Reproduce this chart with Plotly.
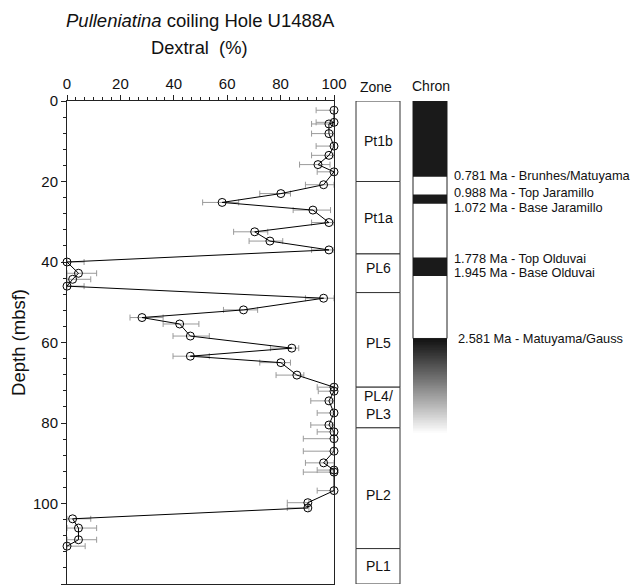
import plotly.graph_objects as go

# ---- data ----
depth = [2.3, 5.3, 5.7, 8.1, 11.2, 13.5, 15.8, 17.6, 20.8, 23.0, 25.2, 27.1, 30.2, 32.5, 34.8, 37.0,
         40.0, 42.8, 44.3, 46.0, 49.0, 51.9, 53.8, 55.4, 58.4, 61.4, 63.4, 65.0, 68.1, 71.1, 72.1, 74.5,
         77.5, 80.5, 82.2, 83.9, 87.0, 89.9, 91.7, 92.2, 96.8, 99.8, 101.1, 103.8, 106.1, 109.0, 110.6]
dextral = [100, 100, 98.1, 98.1, 100, 98.1, 94.0, 100, 96.1, 80.1, 58.1, 92.1, 98.1, 70.3, 76.0, 98.1,
           0, 4.3, 2.1, 0, 96.1, 66.1, 28.1, 42.2, 46.2, 84.2, 46.2, 80.1, 86.1, 100, 100, 98.1,
           100, 98.1, 100, 100, 100, 96.1, 100, 100, 100, 90.2, 90.2, 2.1, 4.3, 4.3, 0]
err_minus = [6.7, 6.7, 6.5, 6.5, 6.7, 6.5, 6.9, 6.3, 6.8, 7.9, 7.3, 7.4, 6.5, 7.9, 7.8, 6.5,
             0, 4.3, 2.1, 0, 6.8, 7.5, 4.5, 6.2, 6.5, 8.0, 6.5, 7.9, 7.8, 6.3, 5.9, 6.8,
             6.3, 6.8, 6.3, 11.5, 11.5, 6.8, 6.3, 11.5, 6.3, 7.7, 7.7, 2.1, 4.3, 4.3, 0]
err_plus = [0, 0, 1.9, 1.9, 0, 1.9, 4.5, 0, 3.9, 3.6, 6.2, 6.6, 1.9, 4.9, 4.8, 1.9,
            6.4, 6.8, 6.8, 6.4, 3.9, 5.3, 7.9, 7.2, 7.1, 2.6, 7.1, 3.6, 2.6, 0, 0, 1.9,
            0, 1.9, 0, 0, 0, 3.9, 0, 0, 0, 0.4, 0.4, 6.8, 6.8, 6.8, 6.8]

zone_bounds = [0, 20, 38, 47.6, 71.1, 81.2, 111.2, 120]
zone_names = ["Pt1b", "Pt1a", "PL6", "PL5", "PL4/<br>PL3", "PL2", "PL1"]
zone_label_depth = [10, 29, 41.5, 60, 75.5, 98, 115.6]

chron_black = [(0, 18.8), (23.2, 25.5), (38.9, 43.5)]
chron_white_end = 59.0
chron_grad_end = 82.8
chron_labels = ["0.781 Ma - Brunhes/Matuyama", "0.988 Ma - Top Jaramillo", "1.072 Ma - Base Jaramillo",
                "1.778 Ma - Top Olduvai", "1.945 Ma - Base Olduvai", "2.581 Ma - Matuyama/Gauss"]
chron_label_depth = [18.5, 22.8, 26.5, 39.2, 42.5, 59.0]

W, H = 636, 588
FONT = "Liberation Sans, Arial, Helvetica, sans-serif"

def px(x):
    return x / W

def py(y):
    return 1 - y / H

fig = go.Figure()
fig.add_trace(go.Scatter(
    x=dextral, y=depth, mode="lines+markers",
    line=dict(color="black", width=1),
    marker=dict(symbol="circle-open", size=8, color="black", line=dict(width=1)),
    error_x=dict(type="data", symmetric=False, array=err_plus, arrayminus=err_minus,
                 color="#9a9a9a", thickness=1, width=3),
    showlegend=False, cliponaxis=False,
))

shapes = []
# zone column
zx0, zx1 = px(356), px(400)
for i in range(len(zone_names)):
    shapes.append(dict(type="rect", xref="paper", yref="y", x0=zx0, x1=zx1,
                       y0=zone_bounds[i], y1=zone_bounds[i + 1],
                       line=dict(color="#333", width=1), fillcolor="white"))
# chron column
cx0, cx1 = px(413), px(447)
shapes.append(dict(type="rect", xref="paper", yref="y", x0=cx0, x1=cx1, y0=0, y1=chron_white_end,
                   line=dict(color="#222", width=1), fillcolor="white"))
for a, b in chron_black:
    shapes.append(dict(type="rect", xref="paper", yref="y", x0=cx0, x1=cx1, y0=a, y1=b,
                       line=dict(width=0), fillcolor="#1a1a1a"))
n = 60
step = (chron_grad_end - chron_white_end) / n
for k in range(n):
    t = k / (n - 1)
    v = int(round(20 + 235 * (t ** 1.05)))
    y0 = chron_white_end + step * k
    shapes.append(dict(type="rect", xref="paper", yref="y", x0=cx0, x1=cx1, y0=y0, y1=y0 + step * 1.6,
                       line=dict(width=0), fillcolor=f"rgb({v},{v},{v})", layer="above"))

ann = []
for name, d in zip(zone_names, zone_label_depth):
    ann.append(dict(x=(zx0 + zx1) / 2, y=d, xref="paper", yref="y", text=name, showarrow=False,
                    font=dict(size=14, color="#111", family=FONT), xanchor="center", yanchor="middle"))
for i, (lab, d) in enumerate(zip(chron_labels, chron_label_depth)):
    ann.append(dict(x=px(456 if i == 5 else 452), y=d, xref="paper", yref="y", text=lab, showarrow=False,
                    font=dict(size=12.8, color="#111", family=FONT), xanchor="left", yanchor="middle"))
ann.append(dict(x=px(376), y=py(87), xref="paper", yref="paper", text="Zone", showarrow=False,
                font=dict(size=14, color="#111", family=FONT), xanchor="center", yanchor="middle"))
ann.append(dict(x=px(431), y=py(86), xref="paper", yref="paper", text="Chron", showarrow=False,
                font=dict(size=14, color="#111", family=FONT), xanchor="center", yanchor="middle"))
ann.append(dict(x=px(200), y=py(20), xref="paper", yref="paper",
                text="<i>Pulleniatina</i> coiling Hole U1488A", showarrow=False,
                font=dict(size=18.5, color="#111", family=FONT), xanchor="center", yanchor="middle"))
ann.append(dict(x=px(199), y=py(48), xref="paper", yref="paper", text="Dextral\u00a0\u00a0(%)",
                showarrow=False, font=dict(size=18.3, color="#111", family=FONT),
                xanchor="center", yanchor="middle"))

fig.update_layout(
    width=W, height=H, margin=dict(l=0, r=0, t=0, b=0),
    paper_bgcolor="white", plot_bgcolor="white",
    font=dict(family=FONT, color="#111"),
    shapes=shapes, annotations=ann,
    xaxis=dict(domain=[px(67), px(334)], range=[0, 100], side="top", showgrid=False, zeroline=False,
               automargin=False,
               showline=True, linecolor="#222", linewidth=1, mirror=True,
               ticks="outside", ticklen=5, tickcolor="#222", tickvals=[0, 20, 40, 60, 80, 100],
               tickfont=dict(size=15, family=FONT, color="#111"),
               minor=dict(ticks="outside", ticklen=3, dtick=20 / 6, tickcolor="#222", showgrid=False)),
    yaxis=dict(domain=[py(584), py(101)], range=[120, 0], showgrid=False, zeroline=False,
               automargin=False,
               showline=True, linecolor="#222", linewidth=1, mirror=True,
               ticks="outside", ticklen=5, tickcolor="#222", tickvals=[0, 20, 40, 60, 80, 100, 120],
               tickfont=dict(size=15, family=FONT, color="#111"),
               minor=dict(ticks="outside", ticklen=3, dtick=4, tickcolor="#222", showgrid=False),
               title=dict(text="Depth (mbsf)", font=dict(size=18.5, family=FONT, color="#111"), standoff=2)),
)

fig.write_html("out.html")
